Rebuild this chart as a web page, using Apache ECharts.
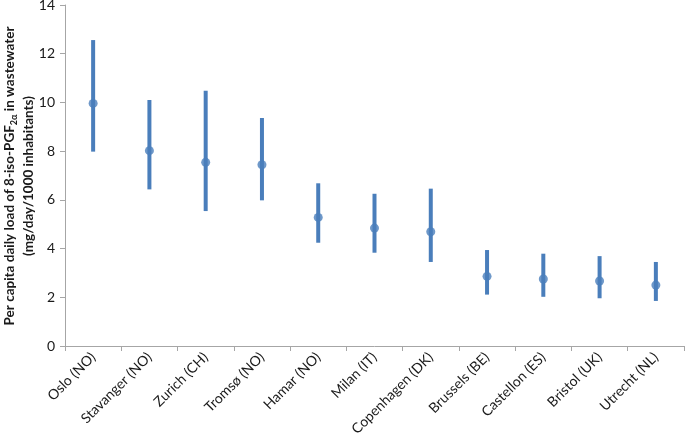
<!DOCTYPE html>
<html><head><meta charset="utf-8">
<script src="https://cdn.jsdelivr.net/npm/echarts@6/dist/echarts.min.js"></script>
<style>html,body{margin:0;padding:0;background:#fff}#c{width:685px;height:437px}</style>
</head><body><div id="c"></div>
<script>
var categories = ['Oslo (NO)','Stavanger (NO)','Zurich (CH)','Tromsø (NO)','Hamar (NO)','Milan (IT)','Copenhagen (DK)','Brussels (BE)','Castellon (ES)','Bristol (UK)','Utrecht (NL)'];
var means = [9.96, 8.02, 7.54, 7.44, 5.28, 4.84, 4.69, 2.86, 2.75, 2.67, 2.50];
var highs = [12.56, 10.10, 10.48, 9.36, 6.68, 6.25, 6.46, 3.94, 3.79, 3.69, 3.45];
var lows  = [7.98, 6.43, 5.54, 5.98, 4.24, 3.83, 3.45, 2.11, 2.02, 1.96, 1.85];
var yTitle = '{a|Per capita daily load of 8-iso-PGF}{s|2α}{a| in wastewater}\n{a|(mg/day/1000 inhabitants)}';

var blue = '#4a7ebb';
var font = 'Lato, "Open Sans", sans-serif';
var chart = echarts.init(document.getElementById('c'));
var errData = categories.map(function(c, i){ return [i, lows[i], highs[i]]; });
chart.setOption({
  animation: false,
  grid: {left: 65, right: 1, top: 5, bottom: 91, containLabel: false, outerBoundsMode: 'none'},
  graphic: [{
    type: 'text', x: 19, y: 176, rotation: Math.PI / 2,
    style: {
      text: yTitle, align: 'center', verticalAlign: 'middle',
      rich: {
        a: {fontSize: 13.5, fontWeight: 'bold', fontFamily: font, fill: '#1a1a1a', lineHeight: 19, align: 'center'},
        s: {fontSize: 9, fontWeight: 'bold', fontFamily: font, fill: '#1a1a1a', verticalAlign: 'bottom', lineHeight: 19, padding: [6,0,0,0]}
      }
    }
  }],
  xAxis: {
    type: 'category', data: categories,
    axisLine: {lineStyle: {color: '#a6a6a6', width: 1}},
    axisTick: {show: true, length: 5, lineStyle: {color: '#a6a6a6'}},
    axisLabel: {rotate: 45, interval: 0, color: '#1a1a1a', fontSize: 14, fontFamily: font, margin: 9},
    splitLine: {show: false}
  },
  yAxis: {
    type: 'value', min: 0, max: 14, interval: 2,
    axisLine: {show: true, lineStyle: {color: '#a6a6a6', width: 1}},
    axisTick: {show: true, length: 5, lineStyle: {color: '#a6a6a6'}},
    axisLabel: {color: '#1a1a1a', fontSize: 14, fontFamily: font, margin: 10},
    splitLine: {show: false}
  },
  series: [{
    type: 'custom',
    data: errData,
    renderItem: function(params, api){
      var lo = api.coord([api.value(0), api.value(1)]);
      var hi = api.coord([api.value(0), api.value(2)]);
      return {type: 'line', shape: {x1: lo[0], y1: lo[1], x2: hi[0], y2: hi[1]}, style: {stroke: blue, lineWidth: 4}};
    },
    encode: {x: 0, y: [1, 2]}, z: 2
  }, {
    type: 'scatter', data: means, symbol: 'circle', symbolSize: 9,
    itemStyle: {color: blue}, z: 3
  }]
});
</script></body></html>
